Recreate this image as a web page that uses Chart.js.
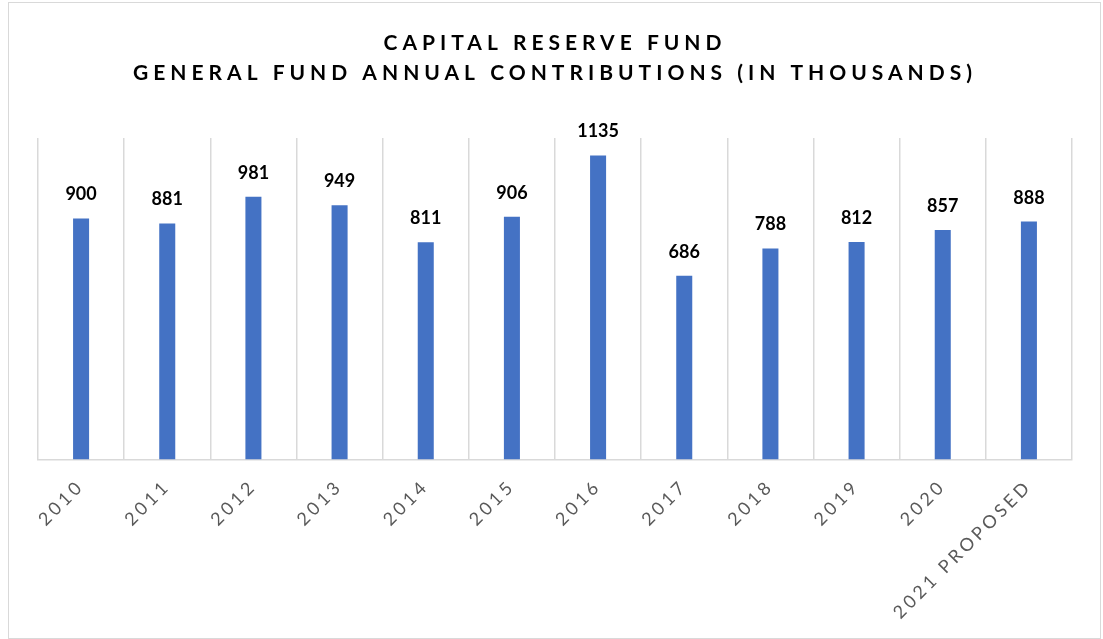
<!DOCTYPE html>
<html>
<head>
<meta charset="utf-8">
<script src="https://cdn.jsdelivr.net/npm/chart.js@4/dist/chart.umd.min.js"></script>
<style>
  html, body { margin: 0; padding: 0; background: #ffffff; }
  #frame {
    position: absolute; left: 8px; top: 2px;
    width: 1093px; height: 637px;
    box-sizing: border-box; border: 1px solid #d9d9d9; background: #ffffff;
  }
  #chart { display: block; }
</style>
</head>
<body>
<div id="frame"><canvas id="chart" width="1091" height="635"></canvas></div>
<script>
// Fiscal years and General Fund contributions to the Capital Reserve Fund (thousands)
const years = ['2010', '2011', '2012', '2013', '2014', '2015', '2016', '2017', '2018', '2019', '2020', '2021 PROPOSED'];
const contributions = [900, 881, 981, 949, 811, 906, 1135, 686, 788, 812, 857, 888];
const titleLines = ['CAPITAL RESERVE FUND', 'GENERAL FUND ANNUAL CONTRIBUTIONS (IN THOUSANDS)'];

const FONT = "Lato, 'Open Sans', 'DejaVu Sans', sans-serif";

// Wraps a drawing method so its text is rendered with extra letter spacing
function withSpacing(obj, method, spacing) {
  if (!obj || obj['__spaced_' + method]) return;
  const original = obj[method];
  obj[method] = function (...args) {
    const ctx = this.ctx;
    const prev = ctx.letterSpacing;
    ctx.letterSpacing = spacing;
    const r = original.apply(this, args);
    ctx.letterSpacing = prev;
    return r;
  };
  obj['__spaced_' + method] = true;
}

const spacingPlugin = {
  id: 'spacing',
  afterLayout(chart) {
    withSpacing(chart.titleBlock, 'draw', '5px');
    withSpacing(chart.scales.x, 'drawLabels', '3.5px');
  }
};

// Value labels above each bar
const valueLabels = {
  id: 'valueLabels',
  afterDatasetsDraw(chart) {
    const ctx = chart.ctx;
    const meta = chart.getDatasetMeta(0);
    ctx.save();
    ctx.letterSpacing = '0px';
    ctx.font = 'bold 18px ' + FONT;
    ctx.fillStyle = '#000000';
    ctx.textAlign = 'center';
    ctx.textBaseline = 'alphabetic';
    meta.data.forEach((bar, i) => {
      ctx.fillText(String(contributions[i]), bar.x, bar.y - 18);
    });
    ctx.restore();
  }
};

new Chart(document.getElementById('chart'), {
  type: 'bar',
  data: {
    labels: years,
    datasets: [{
      data: contributions,
      backgroundColor: '#4472c4',
      borderWidth: 0,
      categoryPercentage: 1,
      barPercentage: 0.186
    }]
  },
  options: {
    responsive: false,
    animation: false,
    layout: { padding: { left: 29, right: 28, top: 0, bottom: 0 } },
    plugins: {
      legend: { display: false },
      tooltip: { enabled: false },
      title: {
        display: true,
        text: titleLines,
        color: '#000000',
        font: { family: FONT, size: 21, weight: 'bold', lineHeight: '30px' },
        padding: { top: 25, bottom: 50 }
      }
    },
    scales: {
      x: {
        grid: { display: true, color: '#d9d9d9', lineWidth: 1.5, drawTicks: false, offset: true },
        border: { display: true, color: '#d9d9d9', width: 1.5 },
        ticks: {
          color: '#595959',
          font: { family: FONT, size: 18 },
          minRotation: 45,
          maxRotation: 45,
          padding: 16,
          autoSkip: false
        },
        afterFit(scale) { scale.height = 178.5; }
      },
      y: {
        display: false,
        min: 0,
        max: 1200
      }
    }
  },
  plugins: [spacingPlugin, valueLabels]
});
</script>
</body>
</html>
